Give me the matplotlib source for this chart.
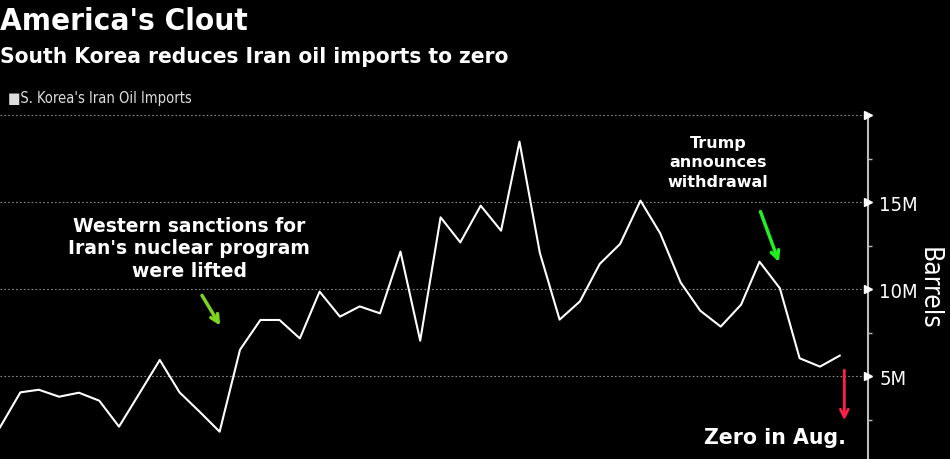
import matplotlib
matplotlib.use('Agg')
import matplotlib.pyplot as plt
import matplotlib.transforms as mtransforms
import pandas as pd

# Maanedlig import av iransk olje til Sor-Korea (millioner fat), jan 2015 - jul 2018
maaneder = pd.date_range('2015-01-01', periods=43, freq='MS')
importer = [2.05, 4.06, 4.21, 3.81, 4.04, 3.58, 2.09, 4.0, 5.92, 4.06, 2.93, 1.80,
            6.51, 8.22, 8.22, 7.16, 9.85, 8.41, 9.0, 8.6, 12.15, 7.03, 14.12, 12.68,
            14.79, 13.35, 18.47, 12.07, 8.24, 9.29, 11.44, 12.59, 15.08, 13.2, 10.38, 8.75,
            7.84, 9.1, 11.57, 10.04, 6.02, 5.54, 6.17]
hoved_ticks = [5, 10, 15, 20]
hoved_etiketter = ['5M', '10M', '15M', '']
minor_ticks = [2.5, 7.5, 12.5, 17.5]

smal = dict(family='DejaVu Sans', stretch='condensed')

fig = plt.figure(figsize=(9.5, 4.6), dpi=100, facecolor='black')
ax = fig.add_axes([0, 0, 868 / 950, 344 / 460], facecolor='black')

ax.plot(maaneder, importer, color='white', linewidth=1.5, zorder=3)

ax.set_xlim(pd.Timestamp('2015-01-01'), pd.Timestamp('2018-08-13'))
ax.set_ylim(0.23, 20)

# Akser og rutenett
for side in ['top', 'left', 'bottom']:
    ax.spines[side].set_visible(False)
ax.spines['right'].set_color('#bdbdbd')
ax.spines['right'].set_linewidth(1.5)
ax.xaxis.set_visible(False)
ax.yaxis.tick_right()
ax.set_yticks(hoved_ticks)
ax.set_yticklabels(hoved_etiketter, fontsize=14.5, color='white', **smal)
ax.set_yticks(minor_ticks, minor=True)
ax.tick_params(axis='y', which='major', length=0, pad=8)
ax.tick_params(axis='y', which='minor', length=3, width=1, color='#bdbdbd', direction='out')
ax.grid(axis='y', which='major', color='#8a8a8a', linestyle=(0, (1.5, 2)), linewidth=0.8)

# Trekant-markorer paa hovedtickene
trans = mtransforms.blended_transform_factory(ax.transAxes, ax.transData)
ax.plot([1.0] * len(hoved_ticks), hoved_ticks, linestyle='none', marker='>',
        markersize=6, color='white', transform=trans, clip_on=False, zorder=5)

ax.set_ylabel('Barrels', fontsize=19, color='white', rotation=270, labelpad=17, **smal)
ax.yaxis.set_label_position('right')

# Titler
fig.text(0.0, 1 - 22 / 460, "America's Clout", weight='bold',
         fontsize=22.5, color='white', va='center', **smal)
fig.text(0.0, 1 - 57 / 460, 'South Korea reduces Iran oil imports to zero',
         weight='bold', fontsize=16.2, color='white', va='center', **smal)
fig.text(0.008, 1 - 98 / 460, '\u25a0S. Korea\'s Iran Oil Imports',
         fontsize=10.5, color='#dddddd', va='center', **smal)

# Kommentarer
ax.text(pd.Timestamp('2015-10-16'), 12.36, "Western sanctions for\nIran's nuclear program\nwere lifted",
        ha='center', va='center', color='white', weight='bold', fontsize=13.5, linespacing=1.25)
ax.annotate('', xy=(pd.Timestamp('2015-12-04'), 7.76), xytext=(pd.Timestamp('2015-11-02'), 9.77),
            arrowprops=dict(arrowstyle='->', color='#7ed321', lw=2.5, mutation_scale=14))

ax.text(pd.Timestamp('2017-12-28'), 17.3, 'Trump\nannounces\nwithdrawal',
        ha='center', va='center', color='white', weight='bold', fontsize=11.5, linespacing=1.35)
ax.annotate('', xy=(pd.Timestamp('2018-04-01'), 11.4), xytext=(pd.Timestamp('2018-03-01'), 14.6),
            arrowprops=dict(arrowstyle='->', color='#22ee22', lw=2.5, mutation_scale=14))

ax.annotate('', xy=(pd.Timestamp('2018-07-08'), 2.3), xytext=(pd.Timestamp('2018-07-08'), 5.5),
            arrowprops=dict(arrowstyle='->', color='#ff1f4b', lw=2, mutation_scale=14))
ax.text(pd.Timestamp('2018-07-11'), 1.5, 'Zero in Aug.', ha='right', va='center',
        color='white', weight='bold', fontsize=14.8)

fig.savefig('out.png', dpi=100, facecolor='black')
